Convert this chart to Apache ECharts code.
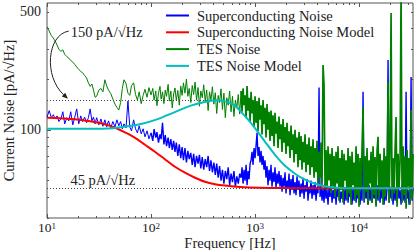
<!DOCTYPE html>
<html><head><meta charset="utf-8">
<script src="https://cdn.jsdelivr.net/npm/echarts@6/dist/echarts.min.js"></script>
<style>html,body{margin:0;padding:0;background:#fff}#c{width:415px;height:250px}</style>
</head><body><div id="c"></div>
<script>
// ---- Data ----
const freqLow = [10,10.5,11,11.5,12,12.5,13,13.6,14.2,14.8,
15.5,16.2,16.9,17.7,18.5,19.3,20.2,21.1,22,23,
24,25,26,27,28,29,30,31.5,33,34.5,
36,37.5,39,41,43,45,47,49,51,53,
55,57.5,60,62.5,65,68,71,74,77,80.5,
84,87.5,91.5,95.5];
const freqMid = [100,104,107,111,114,118,122,125,129,133,
137,141,146,150,155,160,165,170,175,181,
187,193,199,205,212,219,226,233,241,249,
257,265,274,283,292,301,311,321,332,343,
354,365,377,389,402,415,428,442,456,471,
486,502,518,535,552,570,588,607,627,647,
668,690,712];
const freqHigh = [735,750,767,784,802,820,838,857,876,896,
916,936,957,978,1000,1022,1045,1068,1092,1117,
1142,1167,1193,1220,1247,1275,1304,1333,1363,1393,
1424,1456,1489,1522,1556,1591,1627,1663,1700,1738,
1777,1817,1858,1899,1942,1985,2030,2075,2122,2169,
2218,2267,2318,2370,2423,2477,2533,2589,2647,2707,
2767,2829,2893,2957,3024,3091,3160,3231,3304,3378,
3453,3531,3610,3690,3773,3858,3944,4032,4123,4215,
4309,4406,4505,4605,4708,4814,4921,5032,5144,5259,
5377,5498,5621,5747,5875,6007,6141,6279,6419,6563,
6710,6860,7014,7171,7331,7496,7663,7835,8010,8190,
8373,8560,8752,8948,9148,9353,9562,9776,9995,10219,
10448,10682,10921,11166,11416,11671,11933,12200,12473,12752,
13038,13330,13628,13933,14245,14564,14891,15224,15565,15914,
16270,16635,17007,17388,17778,18176,18583,18999,19425,19860,
20305,20759,21224,21700,22186,22683,23191,23710,24241,24784,
25339,25907,26487,27080,27687,28307,28941,29589,30252,30930,
31622,32330,33000];

// Superconducting noise [pA/rtHz]
const scLow = [119,130,118,123,116,121,112,116,128,108.5,
118,113,128,107,119,133,108.5,121,112,119,
110,118,133,113,119,108.5,118,107,116,105,
114.6,104,113,102.8,112,104,114.6,105.6,112,101.4,
108.5,102.8,148,104,98.6,114.6,101.4,96,105.6,94.7,
101.4,90.9,98.6,88.4];
const scMid = [96,86,101,90,97,84,94,88,110,82,
93,80,90,78,88,76,86,74,84,70,
82,68,79,66,78,64,75,67,73,62,
72,60,70,63,71,59,69,58,67,60,
70,57,66,56,64,54,63,52,61,50,
58,48,57,51,60,47,55,49,57,46,
53,48,55];
const scHigh = [52,60,48,58,50,62,47,57,51,63,
66,74,62,78,68,80,96,70,79,64,
75,62,70,58,66,52,61,47,58,50,
62,46,56,49,60,45,55,48,57,46,
54,43,52,46,56,42,50,45,55,41,
51,44,54,42,49,41,53,44,50,40,
48,42,52,39,47,43,51,38,46,42,
50,39,47,41,49,38,46,42,178,40,
47,38,45,37,48,39,44,36,46,40,
48,37,44,39,47,36,45,40,48,37,
43,39,47,36,45,38,46,37,44,40,
48,36,45,38,46,37,44,39,47,36,
45,38,168,37,46,39,44,36,47,38,
45,37,46,39,44,36,47,38,45,37,
46,39,44,36,47,38,45,259,37,46,
39,44,36,47,38,45,37,46,39,44,
36,47,38,45,37,168,39,44,36,47,
206,38,45];

// TES noise [pA/rtHz]
const tesLow = [407,385,362,350,335,318,300,292,298,280,
272,266,258,252,244,236,228,222,218,210,
203,190,181,187,172,156,158,172,176,168,
198,182,172,164,152,142,136,131,145,176,
198,188,165,160,183,190,162,150,168,143,
160,174,156,178];
const tesMid = [161,176,150,170,139,165,181,152,168,143,
172,158,186,148,170,135,163,177,150,171,
140,182,160,190,165,200,158,176,145,183,
162,192,150,178,138,170,155,185,148,172,
130,168,150,180,142,166,125,160,145,175,
132,165,118,155,140,170,128,158,120,150,
135,162,124];
const tesHigh = [170,128,176,140,160,118,182,130,155,112,
168,125,150,104,158,110,148,98,155,115,
140,94,150,108,135,90,142,100,128,86,
130,92,122,80,126,95,112,78,120,88,
108,74,116,84,104,72,110,80,98,68,
106,76,94,64,100,72,90,60,97,66,
92,58,85,64,94,56,82,62,90,54,
80,60,88,52,78,56,86,48,74,52,
84,46,242,185,47,76,44,80,50,72,
42,78,46,70,40,74,48,80,38,68,
44,76,37,72,50,66,39,78,42,70,
36,74,47,64,38,80,41,72,35,68,
45,76,137,38,70,43,78,36,66,48,
74,37,80,41,69,35,75,91,39,72,
44,66,36,78,40,70,46,192,37,74,
493,38,68,42,76,119,35,72,45,66,
700,37,80,41,70,34,76,46,68,36,
131,39,72];

// Models
const scModelFreq = [10,13.3,18.6,25.9,36.1,45.1,56.2,70.2,87.5,109,136,170,212,265,330,412,515,718,1117,2172,5260,33000];
const scModelVal  = [117.8,117.3,115.4,112.3,107.8,102.8,96.6,89.7,81.5,74.1,66.9,60.4,55.7,52.0,49.2,47.6,46.7,45.8,45.3,45.1,45,45];
const tesModelFreq = [10,20.7,37.8,53.8,78.3,114,163,237,345,431,538,643,750,895,1045,1248,1556,1942,2425,3025,3775,4710,6560,10230,33000];
const tesModelVal  = [101.4,101.4,101.8,104.2,107.8,115.4,126.1,138.7,147.4,150,146.4,138.7,126.1,111.5,98.6,84.9,71.1,61.2,54.9,50.6,47.9,46.3,45.2,45,45];

// Reference levels and ticks
const refLevels = [150, 45];
const refEnds = [431, 33000];
const xMajor = [10, 100, 1000, 10000];
const xMinor = [20,30,40,50,60,70,80,90,200,300,400,500,600,700,800,900,2000,3000,4000,5000,6000,7000,8000,9000,20000,30000];
const yMajor = [100];
const yMinor = [30,40,50,60,70,80,90,200,300,400,500];
const yLabels = [100, 500];
const seriesNames = ['Superconducting Noise','Superconducting Noise Model','TES Noise','TES Noise Model'];

// ---- Build ----
function zip(fs, vs) { return fs.map((f, i) => [f, vs[i]]); }
const noiseFreq = freqLow.concat(freqMid, freqHigh);
const scNoise = zip(noiseFreq, scLow.concat(scMid, scHigh));
const tesNoise = zip(noiseFreq, tesLow.concat(tesMid, tesHigh));
const nLow = freqLow.length, nMid = freqMid.length;

const FONT = '"Liberation Serif", "DejaVu Serif", serif';
const X0 = 10, X1 = 33000, Y0 = 30, Y1 = 565;
const tickColor = '#555';

function xAxisDef(pos, ticks, len, labels) {
  return {
    type: 'log', logBase: 10, min: X0, max: X1, position: pos, gridIndex: 0,
    axisLine: { show: false, onZero: false },
    axisTick: { show: true, inside: true, length: len, customValues: ticks, lineStyle: { color: tickColor, width: 1 } },
    axisLabel: labels ? {
      show: true, customValues: labels, margin: 3,
      formatter: v => '{b|10}{s|' + Math.round(Math.log10(v)) + '}',
      rich: {
        b: { fontFamily: FONT, fontSize: 13.5, lineHeight: 13, color: '#222' },
        s: { fontFamily: FONT, fontSize: 9, lineHeight: 9, color: '#222', verticalAlign: 'top', padding: [0, 0, 4, 0] }
      }
    } : { show: false },
    splitLine: { show: false }
  };
}
function yAxisDef(pos, ticks, len, labels) {
  return {
    type: 'log', logBase: 10, min: Y0, max: Y1, position: pos, gridIndex: 0,
    axisLine: { show: false, onZero: false },
    axisTick: { show: true, inside: true, length: len, customValues: ticks, lineStyle: { color: tickColor, width: 1 } },
    axisLabel: labels ? { show: true, customValues: labels, margin: 6, fontFamily: FONT, fontSize: 14, color: '#222' } : { show: false },
    splitLine: { show: false }
  };
}

const xAxes = [
  xAxisDef('bottom', xMajor, 4, xMajor),
  xAxisDef('bottom', xMinor, 2, null),
  xAxisDef('top', xMajor, 4, null),
  xAxisDef('top', xMinor, 2, null)
];
Object.assign(xAxes[0], { name: 'Frequency [Hz]', nameLocation: 'middle', nameGap: 18, nameMoveOverlap: false,
  nameTextStyle: { fontFamily: FONT, fontSize: 14.5, lineHeight: 14, color: '#222' } });
const yAxes = [
  yAxisDef('left', yMajor, 4, yLabels),
  yAxisDef('left', yMinor, 2, null),
  yAxisDef('right', yMajor, 4, null),
  yAxisDef('right', yMinor, 2, null)
];
Object.assign(yAxes[0], { name: 'Current Noise [pA/√Hz]', nameLocation: 'middle', nameGap: 31, nameMoveOverlap: false,
  nameTextStyle: { fontFamily: FONT, fontSize: 14.5, color: '#222' } });

const lineBase = { type: 'line', showSymbol: false, symbol: 'none', clip: true };
const chart = echarts.init(document.getElementById('c'), null, { renderer: 'svg', width: 415, height: 250 });
chart.setOption({
  animation: false,
  backgroundColor: '#fff',
  grid: { left: 47, right: 2, top: 3, bottom: 32, containLabel: false, outerBoundsMode: 'none',
    show: true, borderColor: '#555', borderWidth: 1, backgroundColor: 'transparent' },
  xAxis: xAxes,
  yAxis: yAxes,
  legend: {
    data: seriesNames, orient: 'vertical', left: 161, top: 3, itemWidth: 23, itemHeight: 2, itemGap: 1.8,
    icon: 'rect', textStyle: { fontFamily: FONT, fontSize: 14.5, color: '#222', padding: [0, 0, 0, 3] }
  },
  series: [
    Object.assign({ name: seriesNames[0], data: scNoise.slice(0, nLow + 1),
      lineStyle: { color: '#0000ff', width: 1 }, itemStyle: { color: '#0000ff' }, z: 2,
      markLine: { silent: true, symbol: ['none', 'none'], label: { show: false },
        lineStyle: { color: '#444', type: [1, 2], width: 1 },
        data: refLevels.map((v, i) => [{ coord: [X0, v] }, { coord: [refEnds[i], v] }]) } }, lineBase),
    Object.assign({ name: seriesNames[0], data: scNoise.slice(nLow),
      lineStyle: { color: '#0000ff', width: 1.4 }, itemStyle: { color: '#0000ff' }, z: 2 }, lineBase),
    Object.assign({ name: seriesNames[2], data: tesNoise.slice(0, nLow + nMid + 1),
      lineStyle: { color: '#008000', width: 1 }, itemStyle: { color: '#008000' }, z: 3 }, lineBase),
    Object.assign({ name: seriesNames[2], data: tesNoise.slice(nLow + nMid),
      lineStyle: { color: '#008000', width: 1.7 }, itemStyle: { color: '#008000' }, z: 3 }, lineBase),
    Object.assign({ name: seriesNames[1], data: zip(scModelFreq, scModelVal), smooth: 0.3,
      lineStyle: { color: '#ff0000', width: 2 }, itemStyle: { color: '#ff0000' }, z: 4 }, lineBase),
    Object.assign({ name: seriesNames[3], data: zip(tesModelFreq, tesModelVal), smooth: 0.3,
      lineStyle: { color: '#00bfbf', width: 2 }, itemStyle: { color: '#00bfbf' }, z: 5 }, lineBase)
  ]
});

// Annotations (text + curved arrow), anchored in data space
const annoText = [
  { text: '150 pA/√Hz', f: 16.9, v: 380 },
  { text: '45 pA/√Hz', f: 16.8, v: 50.5 }
];
const p = annoText.map(a => chart.convertToPixel({ xAxisIndex: 0, yAxisIndex: 0 }, [a.f, a.v]));
const tip = chart.convertToPixel({ xAxisIndex: 0, yAxisIndex: 0 }, [15.9, 153]);
const s0 = [p[0][0] - 2, p[0][1] - 1];
const c1 = [s0[0] - 22, s0[1] + 4];
const c2 = [tip[0] - 24, tip[1] - 22];
const dx = tip[0] - c2[0], dy = tip[1] - c2[1], L = Math.hypot(dx, dy), ux = dx / L, uy = dy / L;
const bx = tip[0] - ux * 6, by = tip[1] - uy * 6;
chart.setOption({
  graphic: [
    { type: 'text', x: p[0][0], y: p[0][1], z: 50, style: { text: annoText[0].text, font: '14.5px ' + FONT, fill: '#222', verticalAlign: 'middle' } },
    { type: 'text', x: p[1][0], y: p[1][1], z: 50, style: { text: annoText[1].text, font: '14.5px ' + FONT, fill: '#222', verticalAlign: 'middle' } },
    { type: 'bezierCurve', z: 50, shape: { x1: s0[0], y1: s0[1], cpx1: c1[0], cpy1: c1[1], cpx2: c2[0], cpy2: c2[1], x2: bx, y2: by },
      style: { stroke: '#222', lineWidth: 1, fill: null } },
    { type: 'polygon', z: 50, shape: { points: [[tip[0], tip[1]], [bx - uy * 2.5, by + ux * 2.5], [bx + uy * 2.5, by - ux * 2.5]] },
      style: { fill: '#222' } }
  ]
});
</script>
</body></html>
